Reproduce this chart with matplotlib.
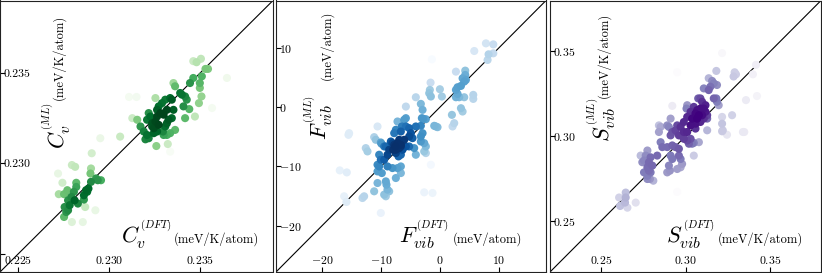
import numpy as np
import matplotlib
matplotlib.use('Agg')
import matplotlib.pyplot as plt
from matplotlib.ticker import ScalarFormatter

plt.rcParams['font.family'] = 'serif'
plt.rcParams['font.serif'] = ['cmr10', 'DejaVu Serif']
plt.rcParams['mathtext.fontset'] = 'cm'
plt.rcParams['axes.formatter.use_mathtext'] = True

# heat capacity (meV/K/atom): DFT vs ML
cv_dft = [0.22719, 0.22743, 0.22723, 0.22752, 0.22770, 0.22774, 0.22792, 0.22806, 0.22795, 0.22813,
          0.22819, 0.22819, 0.22755, 0.22764, 0.22774, 0.22783, 0.22752, 0.22795, 0.22855, 0.22861,
          0.22861, 0.22868, 0.22828, 0.22873, 0.22886, 0.22879, 0.22900, 0.22897, 0.22900, 0.22904,
          0.22928, 0.22937, 0.22955, 0.22924, 0.22951, 0.22810,
          0.23060, 0.23109, 0.23150, 0.23127, 0.23154, 0.23172, 0.23190, 0.23208, 0.23217, 0.23199,
          0.23208, 0.23217, 0.23226, 0.23236, 0.23245, 0.23254, 0.23263, 0.23254, 0.23263, 0.23272,
          0.23281, 0.23299, 0.23295, 0.23308, 0.23317, 0.23326, 0.23290, 0.23308, 0.23317, 0.23335,
          0.23344, 0.23259, 0.23299, 0.23317, 0.23335, 0.23322, 0.23335, 0.23344, 0.23353, 0.23362,
          0.23353, 0.23362, 0.23390, 0.23399, 0.23417, 0.23408, 0.23440, 0.23417, 0.23444, 0.23462,
          0.23498, 0.23507, 0.23493, 0.23471, 0.23462, 0.23480, 0.23504, 0.23529, 0.23543, 0.23509,
          0.23498, 0.23565, 0.23647, 0.23426, 0.23236, 0.23272, 0.23245, 0.23263]
cv_ml = [0.22944, 0.22893, 0.22830, 0.22830, 0.22852, 0.22796, 0.22815, 0.22843, 0.22991, 0.22981,
         0.22893, 0.22870, 0.22759, 0.22731, 0.22741, 0.22769, 0.22704, 0.22676, 0.22676, 0.22800,
         0.22824, 0.22759, 0.22778, 0.22852, 0.22861, 0.22843, 0.22898, 0.22944, 0.22972, 0.23056,
         0.22917, 0.22907, 0.22907, 0.22741, 0.23139, 0.22796,
         0.23148, 0.23367, 0.23367, 0.23250, 0.23241, 0.23204, 0.23176, 0.23157, 0.23139, 0.23133,
         0.23241, 0.23278, 0.23259, 0.23222, 0.23194, 0.23231, 0.23259, 0.23361, 0.23296, 0.23315,
         0.23278, 0.23269, 0.23176, 0.23204, 0.23222, 0.23241, 0.23333, 0.23352, 0.23296, 0.23361,
         0.23352, 0.23096, 0.23157, 0.23157, 0.23167, 0.23107, 0.23065, 0.23250, 0.23296, 0.23185,
         0.23444, 0.23426, 0.23389, 0.23380, 0.23370, 0.23315, 0.23300, 0.23250, 0.23444, 0.23472,
         0.23417, 0.23370, 0.23333, 0.23259, 0.23565, 0.23559, 0.23578, 0.23522, 0.23522, 0.23481,
         0.23444, 0.23306, 0.23472, 0.23352, 0.23204, 0.23213, 0.23167, 0.23176]

# vibrational free energy (meV/atom)
fvib_dft = [7.81, 9.06, 5.83, 8.26, 9.06, 8.09, -1.36, 2.72, 4.30, 4.30,
            3.85, 4.13, 3.57, 3.00, 4.41, 2.72, 3.00, 3.28, 2.72, 4.13,
            5.66, 5.66, -1.58, -1.70, -1.81, -1.53, 0.00, 0.34, -4.08, -5.77,
            -3.23, -2.94, -3.06, -2.83, -2.38, 2.04, 3.57, 3.85, -4.08, -3.23,
            -2.94, -3.23, -3.23, -2.66, -2.38, -0.96, -0.40, -0.68, 2.15, 2.43,
            -2.66, -2.38, -1.53, -1.25, -5.77, -6.06, -5.77, -5.21, -4.92, -5.21,
            -4.64, -7.19, -6.45, -7.47, -6.62, -7.75, -6.90, -6.06, -5.77, -5.21,
            -4.36, -4.08, -6.62, -8.32, -8.04, -7.58, -7.92, -8.60, -9.17, -8.89,
            -7.47, -7.02, -10.58, -11.15, -10.87, -10.02, -9.91, -9.45, -10.30, -10.02,
            -9.45, -12.57, -12.28, -10.58, -10.30, -10.58, -8.89, -8.04, -7.19, -6.62,
            -6.62, -9.85, -7.47, -10.58, -9.17, -9.06, -8.89, -9.17, -9.45, -8.60,
            -11.15, -12.85, -13.13, -15.40, -15.51, -16.98, -15.79, -16.24, -15.85, -10.02,
            -2.66, -7.47, -6.90, -7.19, -6.62, -6.34, -6.62, -7.75]
fvib_ml = [10.77, 10.60, 9.48, 8.92, 9.09, 7.97, 8.08, 6.00, 6.17, 5.44,
           4.88, 4.32, 3.59, 3.37, 4.60, 2.92, 2.24, 1.68, 1.68, 1.68,
           2.08, 1.40, 4.15, 2.92, 2.36, 1.80, 3.03, 1.80, 1.68, 0.11,
           0.56, -0.45, -1.85, -1.96, -2.02, -1.29, -0.17, -0.73, -3.25, -3.14,
           -4.38, -4.94, -5.78, -6.06, -6.62, -3.14, -3.37, -3.25, -3.25, -2.69,
           -7.46, -7.74, -9.71, -14.47, -1.85, -2.13, -3.25, -3.53, -4.38, -4.94,
           -5.22, -2.41, -3.25, -3.81, -4.10, -4.38, -5.50, -5.50, -6.62, -6.62,
           -6.90, -8.02, -8.02, -5.78, -6.06, -6.62, -7.18, -7.18, -6.62, -8.02,
           -7.74, -8.30, -3.25, -5.05, -5.50, -5.95, -6.17, -6.62, -8.02, -8.86,
           -8.86, -6.90, -7.46, -9.71, -9.99, -10.83, -9.99, -10.27, -10.27, -11.11,
           -9.99, -11.11, -11.95, -12.79, -12.51, -13.07, -13.91, -15.03, -14.75, -14.19,
           -14.19, -15.03, -15.32, -4.38, -4.66, -10.66, -11.00, -15.03, -15.99, -17.84,
           -14.36, -7.18, -6.90, -6.06, -6.34, -7.18, -6.62, -6.34]

# vibrational entropy (meV/K/atom)
svib_dft = [0.3216, 0.2951, 0.3182, 0.3137, 0.3157, 0.3167, 0.3186, 0.3147, 0.3290, 0.3298,
            0.3284, 0.3398, 0.3416, 0.3422, 0.3357, 0.3137, 0.3167, 0.3182, 0.3186, 0.3196,
            0.3108, 0.3088, 0.3098, 0.3118, 0.3088, 0.3075, 0.3049, 0.3030, 0.3069, 0.3059,
            0.3010, 0.3006, 0.3108, 0.3118, 0.3128, 0.3098, 0.3079, 0.3108, 0.3128, 0.3069,
            0.3088, 0.3059, 0.3059, 0.3128, 0.3039, 0.3030, 0.3216, 0.3216, 0.3220, 0.3275,
            0.3216, 0.3245, 0.3339, 0.3347, 0.2922, 0.3010, 0.2990, 0.2971, 0.2961, 0.2990,
            0.3010, 0.2990, 0.2951, 0.2941, 0.2922, 0.2902, 0.2912, 0.3010, 0.3030, 0.3049,
            0.3079, 0.3039, 0.3020, 0.2912, 0.2892, 0.2843, 0.2853, 0.2863, 0.2892, 0.2922,
            0.2941, 0.2961, 0.2961, 0.2971, 0.2922, 0.2912, 0.2980, 0.2971, 0.2951, 0.2908,
            0.2892, 0.2902, 0.2843, 0.2853, 0.2735, 0.2745, 0.2755, 0.2775, 0.2765, 0.2794,
            0.2784, 0.2775, 0.2784, 0.2794, 0.2775, 0.2775, 0.2790, 0.2810, 0.2755, 0.2804,
            0.2833, 0.3049, 0.2951, 0.2608, 0.2647, 0.2647, 0.2643, 0.2614, 0.2657, 0.2706]
svib_ml = [0.3490, 0.3377, 0.3385, 0.3342, 0.3326, 0.3312, 0.3302, 0.3292, 0.3377, 0.3365,
           0.3352, 0.3365, 0.3421, 0.3237, 0.3213, 0.3272, 0.3223, 0.3223, 0.3203, 0.3183,
           0.3282, 0.3223, 0.3203, 0.3183, 0.3163, 0.3223, 0.3173, 0.3144, 0.3154, 0.3134,
           0.3183, 0.3163, 0.3163, 0.3144, 0.3124, 0.3124, 0.3124, 0.3104, 0.3104, 0.3104,
           0.3084, 0.3074, 0.3045, 0.3035, 0.3104, 0.3064, 0.3114, 0.3074, 0.3035, 0.3124,
           0.3029, 0.3009, 0.3025, 0.3025, 0.3179, 0.3114, 0.3084, 0.3055, 0.3005, 0.3025,
           0.3025, 0.2985, 0.3064, 0.3035, 0.3025, 0.3055, 0.3005, 0.2975, 0.2985, 0.2961,
           0.2965, 0.2956, 0.2956, 0.3104, 0.3064, 0.3025, 0.2965, 0.2936, 0.2936, 0.2946,
           0.2936, 0.2926, 0.2886, 0.2866, 0.2866, 0.2886, 0.2837, 0.2817, 0.2807, 0.2797,
           0.2787, 0.2827, 0.3064, 0.3055, 0.2886, 0.2847, 0.2857, 0.2916, 0.2886, 0.2876,
           0.2847, 0.2817, 0.2797, 0.2787, 0.2767, 0.2748, 0.2748, 0.2738, 0.2787, 0.2827,
           0.2886, 0.2886, 0.2672, 0.2639, 0.2668, 0.2639, 0.2609, 0.2589, 0.2579, 0.2609]

cv_ticks = [0.225, 0.230, 0.235]
fvib_ticks = [-20, -10, 0, 10]
svib_ticks = [0.25, 0.30, 0.35]


def point_density(x, y, bw=0.75):
    # gaussian kde (scott bandwidth scaled by bw), evaluated at the points themselves
    xy = np.vstack([x, y])
    n = xy.shape[1]
    inv = np.linalg.inv(np.cov(xy) * (bw * n ** (-1 / 6)) ** 2)
    d = xy[:, :, None] - xy[:, None, :]
    q = inv[0, 0] * d[0] ** 2 + 2 * inv[0, 1] * d[0] * d[1] + inv[1, 1] * d[1] ** 2
    return np.exp(-0.5 * q).sum(axis=1)


panels = [
    dict(x=cv_dft, y=cv_ml, ticks=cv_ticks, lims=(0.2240, 0.2390), cmap='Greens',
         rect=(0, 273), sym=r'C_v', unit='(meV/K/atom)', skip_first_y=True,
         ypos=((0.240, 0.625), (0.228, 0.632)), xpos=(0.630, 0.637)),
    dict(x=fvib_dft, y=fvib_ml, ticks=fvib_ticks, lims=(-27.8, 18.0), cmap='Blues',
         rect=(276, 270), sym=r'F_{vib}', unit='(meV/atom)', skip_first_y=False,
         ypos=((0.189, 0.651), (0.200, 0.706)), xpos=(0.637, 0.656)),
    dict(x=svib_dft, y=svib_ml, ticks=svib_ticks, lims=(0.2200, 0.3800), cmap='Purples',
         rect=(550, 271), sym=r'S_{vib}', unit='(meV/K/atom)', skip_first_y=False,
         ypos=((0.221, 0.643), (0.210, 0.640)), xpos=(0.609, 0.620)),
]

W, H = 822, 273
fig = plt.figure(figsize=(W / 100, H / 100), dpi=100)

for p in panels:
    left, width = p['rect']
    ax = fig.add_axes([left / W, 1 / H, width / W, 271.5 / H])
    x = np.array(p['x'])
    y = np.array(p['y'])
    dens = np.sqrt(point_density(x, y))
    order = np.argsort(dens)
    ax.scatter(x[order], y[order], c=dens[order], cmap=p['cmap'], s=34,
               edgecolors='none', zorder=2)
    lo, hi = p['lims']
    ax.axline((lo, lo), (hi, hi), color='black', lw=0.8, zorder=1)
    ax.set_xlim(lo, hi)
    ax.set_ylim(lo, hi)

    ax.set_xticks(p['ticks'])
    ax.xaxis.set_major_formatter(ScalarFormatter(useOffset=False, useMathText=True))
    if p['skip_first_y']:
        # the lowest y label would sit on top of the first x label
        ax.set_yticks(p['ticks'], labels=[''] + ['%.3f' % t for t in p['ticks'][1:]])
    else:
        ax.set_yticks(p['ticks'])
        ax.yaxis.set_major_formatter(ScalarFormatter(useOffset=False, useMathText=True))
    ax.tick_params(direction='in', length=3.5, width=0.8, labelsize=8.5)
    ax.tick_params(axis='y', pad=-2.5)
    ax.tick_params(axis='x', pad=-4)
    for lab in ax.get_yticklabels():
        lab.set_horizontalalignment('left')
    for lab in ax.get_xticklabels():
        lab.set_verticalalignment('bottom')
    for s in ax.spines.values():
        s.set_linewidth(0.8)
        s.set_color('#222222')

    # axis labels drawn inside the frame
    (mx, my), (ux, uy) = p['ypos']
    ax.text(mx, my, '$' + p['sym'] + '^{^{(ML)}}$', transform=ax.transAxes, fontsize=16,
            rotation=90, rotation_mode='anchor', ha='right', va='baseline')
    ax.text(ux, uy, p['unit'], transform=ax.transAxes, fontsize=9,
            rotation=90, rotation_mode='anchor', ha='left', va='baseline')
    xm, xu = p['xpos']
    ax.text(xm, 0.107, '$' + p['sym'] + '^{^{(DFT)}}$', transform=ax.transAxes, fontsize=16,
            ha='right', va='baseline')
    ax.text(xu, 0.107, p['unit'], transform=ax.transAxes, fontsize=9,
            ha='left', va='baseline')

fig.savefig('out.png', dpi=100)
